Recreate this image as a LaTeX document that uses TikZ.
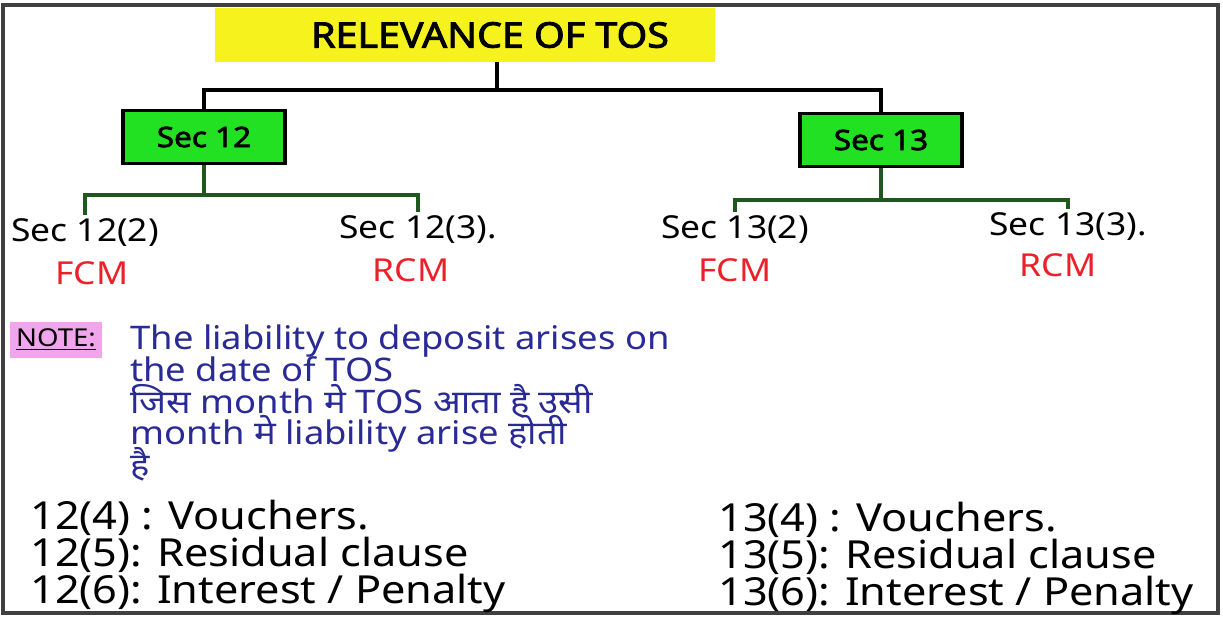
\documentclass[tikz,border=0pt]{standalone}
\usepackage{fontspec}
\setmainfont{Noto Sans}[FakeStretch=1.12]
\newfontfamily\hindifont{Noto Sans}[Script=Devanagari, FakeStretch=1.12]
\newfontfamily\heavyfont{Noto Sans}[FakeStretch=1.12, FakeBold=2.5]
\newcommand\tightlines{\setlength{\lineskiplimit}{-20pt}}
\usepackage{xcolor}
\usetikzlibrary{positioning, calc}
\definecolor{boxgreen}{RGB}{34,224,34}
\definecolor{leafgreen}{RGB}{30,88,30}
\definecolor{hiliteyellow}{RGB}{246,242,30}
\definecolor{notepink}{RGB}{240,165,236}
\definecolor{inkred}{RGB}{236,32,40}
\definecolor{inkblue}{RGB}{42,42,150}
\tikzset{
    secbox/.style={rectangle, draw=black, line width=2pt, fill=boxgreen, minimum width=3.24cm, minimum height=1.06cm, text centered, font=\heavyfont\fontsize{16}{18}\selectfont},
    frame/.style={line width=2pt, draw=black!75}
}

\begin{document}
\begin{tikzpicture}[x=0.02cm, y=-0.02cm,
    titlebox/.style={rectangle, fill=hiliteyellow, minimum width=10cm, minimum height=1.08cm, font=\heavyfont\fontsize{20}{22}\selectfont},
    tree/.style={line width=2.1pt, black},
    branch/.style={line width=2.1pt, leafgreen},
    sublabel/.style={inner sep=2pt, font=\fontsize{18}{20}\selectfont},
    modetag/.style={inner sep=2pt, text=inkred, font=\fontsize{18}{20}\selectfont},
    notetag/.style={rectangle, fill=notepink, minimum width=1.6cm, minimum height=0.72cm, font=\fontsize{14}{16}\selectfont},
    notetext/.style={inner sep=0pt, align=left, text=inkblue, font=\hindifont\fontsize{18.5}{18.2}\selectfont\tightlines},
    listtext/.style={inner sep=0pt, align=left, font=\fontsize{22}{21}\selectfont\tightlines}]

    \useasboundingbox (0,0) rectangle (1223,618);
    \draw [frame] (3,5) rectangle (1218,613);

    \node (title) [titlebox] at (465,35) {\hspace*{1cm}RELEVANCE OF TOS};

    \node (sec12) [secbox] at (204,137) {Sec 12};
    \node (sec13) [secbox] at (881,140) {Sec 13};

    \node (s122) [sublabel] at (85,233)   {Sec 12(2)};
    \node (s123) [sublabel] at (418,230)  {Sec 12(3).};
    \node (s132) [sublabel] at (735,230)  {Sec 13(2)};
    \node (s133) [sublabel] at (1068,227) {Sec 13(3).};

    \node (fcm12) [modetag, below=4pt of s122, xshift=0.14cm] {FCM};
    \node (rcm12) [modetag, below=4pt of s123, xshift=-0.14cm] {RCM};
    \node (fcm13) [modetag, below=4pt of s132] {FCM};
    \node (rcm13) [modetag, below=3pt of s133, xshift=-0.2cm] {RCM};

    \coordinate (fork0)  at (497,90);
    \coordinate (fork12) at (204,195);
    \coordinate (fork13) at (881,200);

    \draw [tree] (title.south -| fork0) -- (fork0);
    \draw [tree] (sec12) |- (fork0) -| (sec13);
    \draw [branch] (sec12) -- (fork12);
    \draw [branch] (s122) |- (fork12) -| (s123);
    \draw [branch] (sec13) -- (fork13);
    \draw [branch] (s132) |- (fork13) -| (s133);

    \node (note) [notetag] at (56,340) {\underline{NOTE:}};
    \node (notetext) [notetext, anchor=north west] at (130,324)
        {The liability to deposit arises on\\the date of TOS\\जिस month मे TOS आता है उसी\\month मे liability arise होती\\है};

    \node (list12) [listtext, anchor=north west] at (30,500)
        {12(4) : Vouchers.\\12(5): Residual clause\\12(6): Interest / Penalty};
    \node (list13) [listtext, anchor=north west] at (718,502)
        {13(4) : Vouchers.\\13(5): Residual clause\\13(6): Interest / Penalty};
\end{tikzpicture}
\end{document}
